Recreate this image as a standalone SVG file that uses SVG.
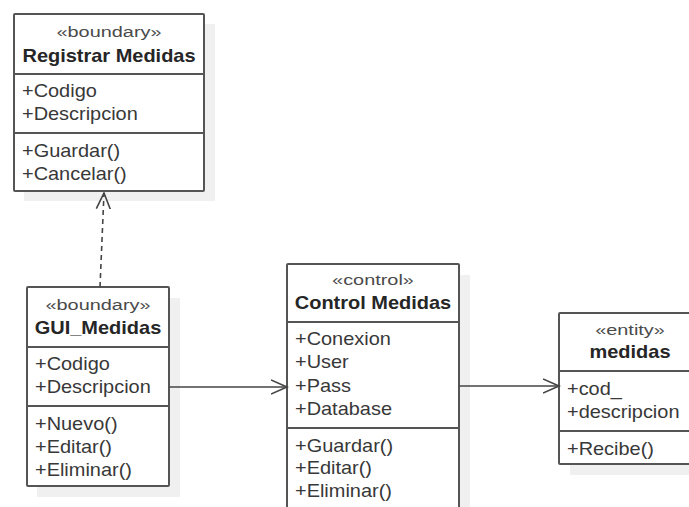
<svg xmlns="http://www.w3.org/2000/svg" width="689" height="507" viewBox="0 0 689 507">
<defs>
<style>
.shadow{fill:#f0f0f0;stroke:none}
.box{fill:#ffffff;stroke:#555555;stroke-width:2}
.div{stroke:#555555;stroke-width:2}
text{font-family:"Liberation Sans",Arial,sans-serif;fill:#383838}
.st{font-size:14px;text-anchor:middle;fill:#4a4a4a}
.nm{font-size:18px;font-weight:bold;text-anchor:middle;fill:#262626}
.at{font-size:17.5px}
.conn{fill:none;stroke:#444444;stroke-width:1.6}
</style>
<marker id="open" markerWidth="20" markerHeight="20" refX="16" refY="8" orient="auto" markerUnits="userSpaceOnUse" viewBox="0 0 20 16">
<path d="M0,1 L16,8 L0,15" fill="none" stroke="#444444" stroke-width="1.6"/>
</marker>
</defs>
<rect width="689" height="507" fill="#ffffff"/>
<g id="registrar-medidas">
<rect class="shadow" x="24" y="24" width="191" height="177"/>
<rect class="box" x="14" y="14" width="190" height="177" rx="1"/>
<line class="div" x1="14" y1="74" x2="204" y2="74"/>
<line class="div" x1="14" y1="133" x2="204" y2="133"/>
<text class="st" transform="translate(109 37) scale(1.42 1)">«boundary»</text>
<text class="nm" transform="translate(109 62) scale(1.11 1)">Registrar Medidas</text>
<text class="at" transform="translate(22 97) scale(1.14 1)">+Codigo</text>
<text class="at" transform="translate(22 120) scale(1.14 1)">+Descripcion</text>
<text class="at" transform="translate(22 157) scale(1.14 1)">+Guardar()</text>
<text class="at" transform="translate(22 180) scale(1.14 1)">+Cancelar()</text>
</g>
<g id="gui-medidas">
<rect class="shadow" x="37" y="298" width="143" height="199"/>
<rect class="box" x="27" y="287" width="142" height="199" rx="1"/>
<line class="div" x1="27" y1="347" x2="169" y2="347"/>
<line class="div" x1="27" y1="406" x2="169" y2="406"/>
<text class="st" transform="translate(98 310) scale(1.42 1)">«boundary»</text>
<text class="nm" transform="translate(98 334) scale(1.11 1)">GUI_Medidas</text>
<text class="at" transform="translate(35 370) scale(1.14 1)">+Codigo</text>
<text class="at" transform="translate(35 393) scale(1.14 1)">+Descripcion</text>
<text class="at" transform="translate(35 430) scale(1.14 1)">+Nuevo()</text>
<text class="at" transform="translate(35 453) scale(1.14 1)">+Editar()</text>
<text class="at" transform="translate(35 476) scale(1.14 1)">+Eliminar()</text>
</g>
<g id="control-medidas">
<rect class="shadow" x="298" y="275" width="172" height="250"/>
<rect class="box" x="287" y="264" width="172" height="260" rx="1"/>
<line class="div" x1="287" y1="322" x2="459" y2="322"/>
<line class="div" x1="287" y1="428" x2="459" y2="428"/>
<text class="st" transform="translate(373 285) scale(1.42 1)">«control»</text>
<text class="nm" transform="translate(373 309) scale(1.11 1)">Control Medidas</text>
<text class="at" transform="translate(295 345) scale(1.14 1)">+Conexion</text>
<text class="at" transform="translate(295 368) scale(1.14 1)">+User</text>
<text class="at" transform="translate(295 392) scale(1.14 1)">+Pass</text>
<text class="at" transform="translate(295 415) scale(1.14 1)">+Database</text>
<text class="at" transform="translate(295 452) scale(1.14 1)">+Guardar()</text>
<text class="at" transform="translate(295 474) scale(1.14 1)">+Editar()</text>
<text class="at" transform="translate(295 497) scale(1.14 1)">+Eliminar()</text>
</g>
<g id="medidas">
<rect class="shadow" x="570" y="323" width="140" height="152"/>
<rect class="box" x="559" y="313" width="142" height="151" rx="1"/>
<line class="div" x1="559" y1="371" x2="701" y2="371"/>
<line class="div" x1="559" y1="431" x2="701" y2="431"/>
<text class="st" transform="translate(630 335) scale(1.42 1)">«entity»</text>
<text class="nm" transform="translate(630 358) scale(1.11 1)">medidas</text>
<text class="at" transform="translate(567 395) scale(1.14 1)">+cod_</text>
<text class="at" transform="translate(567 418) scale(1.14 1)">+descripcion</text>
<text class="at" transform="translate(567 455) scale(1.14 1)">+Recibe()</text>
</g>
<g id="connectors">
<line class="conn" x1="100" y1="287" x2="104" y2="193" stroke-dasharray="5,4" marker-end="url(#open)"/>
<line class="conn" x1="169" y1="387" x2="287" y2="387" marker-end="url(#open)"/>
<line class="conn" x1="459" y1="386" x2="559" y2="386" marker-end="url(#open)"/>
</g>
</svg>
